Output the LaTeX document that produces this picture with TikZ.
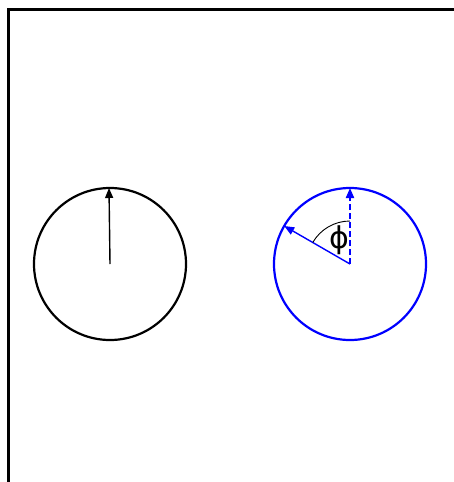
\documentclass[tikz,border=0pt]{standalone}
\usepackage{fontspec}
\newfontfamily\greekfont{DejaVu Sans}
\usetikzlibrary{arrows.meta}
\begin{document}
\begin{tikzpicture}[x=1pt,y=-1pt,
  disc/.style={circle,draw,line width=2.2pt,minimum size=152pt,inner sep=0pt},
  vec/.style={line width=1.4pt,-{Triangle[length=10pt,width=8pt]}}]
\useasboundingbox (0,0) rectangle (454,482);
\draw[line width=3pt] (8,482) -- (8,9) -- (454,9);
\node[disc] (L) at (110,264) {};
\node[disc,draw=blue] (R) at (350,264) {};
\coordinate (Lc) at (110,264);
\coordinate (Lt) at (109,188);
\draw[vec] (Lc) -- (Lt);
\coordinate (Rc) at (350,264);
\coordinate (Rt) at (350,188);
\coordinate (Rv) at (284.2,226);
\draw[vec,blue,dash pattern=on 6pt off 3pt,line width=2pt] (Rc) -- (Rt);
\draw[vec,blue] (Rc) -- (Rv);
\draw[line width=0.9pt] (350,221) arc[start angle=-90,end angle=-150,radius=43];
\node[font=\greekfont\fontsize{30}{30}\selectfont,inner sep=0pt] (phi) at (339,240) {ϕ};
\end{tikzpicture}
\end{document}
